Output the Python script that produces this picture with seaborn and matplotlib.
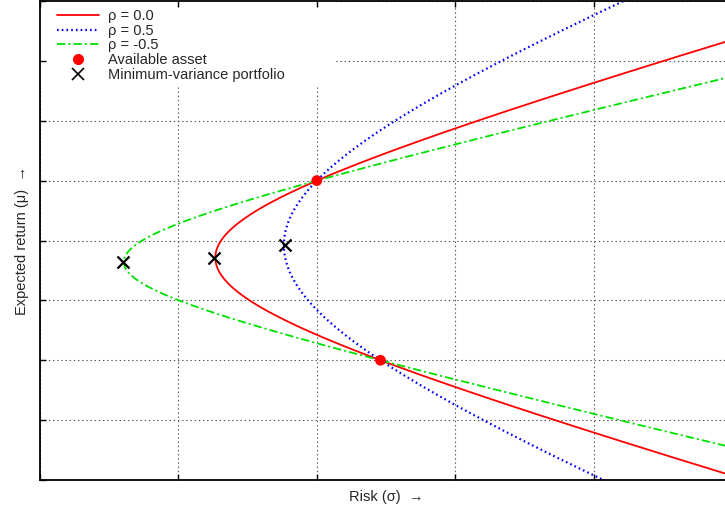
import numpy as np
import pandas as pd
import matplotlib
matplotlib.use("Agg")
import matplotlib.pyplot as plt
from matplotlib.lines import Line2D
from matplotlib.patches import Rectangle
import seaborn as sns

# 1. Dados (dois ativos + correlações)
ativos_sigma = [3.0, 3.46]      # risco de cada ativo
ativos_mu = [5.0, 2.0]          # retorno esperado de cada ativo
correlacoes = [0.0, 0.5, -0.5]
rotulos = ["ρ = 0.0", "ρ = 0.5", "ρ = -0.5"]

# carteiras de variância mínima
mv_sigma = [2.26, 2.77, 1.60]
mv_mu = [3.71, 3.92, 3.64]

# pesos no ativo 1 (com venda a descoberto)
pesos = np.linspace(-1.5, 2.5, 500)

# 2. Fronteira de cada correlação
linhas = []
for rho, rot in zip(correlacoes, rotulos):
    sA, sB = ativos_sigma
    mA, mB = ativos_mu
    var = pesos**2 * sA**2 + (1 - pesos)**2 * sB**2 + 2 * pesos * (1 - pesos) * rho * sA * sB
    linhas.append(pd.DataFrame({"sigma": np.sqrt(var),
                                "mu": pesos * mA + (1 - pesos) * mB,
                                "rho": rot}))
df = pd.concat(linhas, ignore_index=True)

# 3. Estilo
sns.set_theme(style="white")
plt.rcParams['font.family'] = ['Liberation Sans', 'DejaVu Sans']
plt.rcParams['lines.scale_dashes'] = False

fig = plt.figure(figsize=(7.25, 5.12), dpi=100)
ret = [40 / 725, 32 / 512, 692 / 725, 479 / 512]
ax = fig.add_axes(ret)

cores = {"ρ = 0.0": "#ff0000", "ρ = 0.5": "#0000ff", "ρ = -0.5": "#00e000"}
estilos = {"ρ = 0.0": "-", "ρ = 0.5": (0, (1.2, 2.2)), "ρ = -0.5": (0, (6, 2.2, 1.5, 2.2))}
larguras = {"ρ = 0.0": 1.3, "ρ = 0.5": 1.6, "ρ = -0.5": 1.3}

for rot in rotulos:
    sub = df[df["rho"] == rot]
    sns.lineplot(data=sub, x="sigma", y="mu", sort=False, ax=ax,
                 color=cores[rot], linestyle=estilos[rot], linewidth=larguras[rot],
                 estimator=None, legend=False)

sns.scatterplot(x=ativos_sigma, y=ativos_mu, ax=ax, color="#ff0000", s=60,
                edgecolor="none", zorder=5, legend=False)
sns.scatterplot(x=mv_sigma, y=mv_mu, ax=ax, color="black", marker="x", s=75,
                linewidth=1.6, zorder=5, legend=False)

ax.set_xlim(1, 6)
ax.set_ylim(0, 8)
ax.set_xticks(range(1, 7))
ax.set_yticks(range(0, 9))
ax.tick_params(length=0, labelbottom=False, labelleft=False)
ax.grid(True, color="#555555", linestyle=(0, (1, 2)), linewidth=0.8)
ax.set_axisbelow(True)
for sp in ax.spines.values():
    sp.set_visible(False)

ax.set_xlabel("Risk (σ)  →", fontsize=10.5, labelpad=7)
ax.set_ylabel("Expected return (μ)  →", fontsize=10.5, labelpad=8)

# moldura com marcas para dentro (desenhada por cima do fundo da legenda)
moldura = fig.add_axes(ret, facecolor="none")
moldura.set_xlim(1, 6)
moldura.set_ylim(0, 8)
moldura.set_xticks(range(1, 7))
moldura.set_yticks(range(0, 9))
moldura.tick_params(direction="in", length=4, width=1, colors="black",
                    top=True, right=True, bottom=True, left=True,
                    labelbottom=False, labelleft=False)
for sp in moldura.spines.values():
    sp.set_color("black")
    sp.set_linewidth(1.3)

# 4. Legenda (fundo branco que esconde a grade)
fundo = Rectangle((0, 1 - 85 / 479), 295 / 692, 85 / 479, transform=ax.transAxes,
                  facecolor="white", edgecolor="none", zorder=1)
ax.add_patch(fundo)

handles = [Line2D([], [], color=cores[r], linestyle=estilos[r], linewidth=larguras[r]) for r in rotulos]
handles.append(Line2D([], [], color="#ff0000", marker="o", linestyle="none", markersize=7))
handles.append(Line2D([], [], color="black", marker="x", linestyle="none", markersize=9, markeredgewidth=1.2))
leg = ax.legend(handles, rotulos + ["Available asset", "Minimum-variance portfolio"],
                loc="upper left", bbox_to_anchor=(17 / 692, 1 - 8 / 479), borderaxespad=0,
                fontsize=10.5, frameon=False, labelspacing=0.05,
                handlelength=2.9, handletextpad=0.6, borderpad=0, numpoints=1)

plt.savefig("out.png", dpi=100)
print("Gráfico salvo como out.png")
